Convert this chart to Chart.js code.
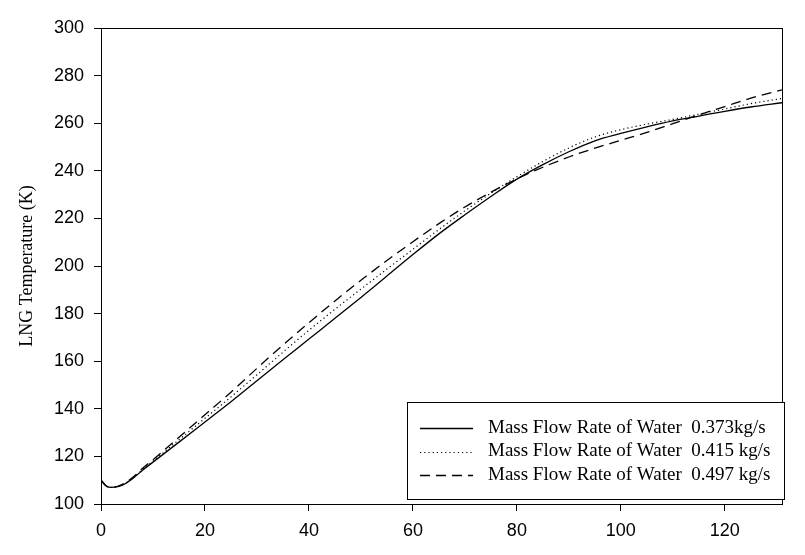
<!DOCTYPE html>
<html>
<head>
<meta charset="utf-8">
<title>LNG Temperature</title>
<script src="https://cdn.jsdelivr.net/npm/chart.js@4.4.1/dist/chart.umd.min.js"></script>
<style>
  html, body { margin: 0; padding: 0; background: #fff; }
  #wrap { width: 805px; height: 555px; }
</style>
</head>
<body>
<div id="wrap"><canvas id="lng-chart" width="805" height="555"></canvas></div>
<script>
// distance along the exchanger (x) and LNG temperature (K) for each water flow rate
const positions = [0, 1, 2, 4, 6, 8, 10, 15, 20, 25, 30, 35, 40, 45, 50, 55, 60, 65, 70, 75, 80, 85, 90, 95, 100, 105, 110, 115, 120, 125, 131];
const temp0373 = [110, 107.6, 107.0, 107.8, 110.5, 114.2, 117.6, 126, 134.5, 143, 151.8, 160.6, 169.3, 178, 186.8, 195.8, 204.8, 213.5, 221.5, 229.2, 236.5, 242.6, 248, 252.6, 255.7, 258.5, 261, 263, 265, 266.8, 268.6];
const temp0415 = [110, 107.6, 107.0, 108.0, 110.7, 114.5, 118, 127, 136, 145, 154.3, 163.8, 173, 181.8, 190.3, 198.7, 207, 215.3, 223.2, 230.6, 237.5, 243.9, 249.6, 254.2, 257.3, 259.6, 261.6, 263.8, 266, 268.2, 270.4];
const temp0497 = [110, 107.6, 107.0, 108.2, 111.0, 115, 118.6, 128, 137.5, 147, 157, 166.8, 176.2, 185.3, 194, 202.3, 210.2, 217.8, 224.8, 231, 236.6, 241.5, 245.8, 249.5, 252.8, 256.1, 259.8, 263.5, 267, 270.5, 274];
const seriesLabels = [
  'Mass Flow Rate of Water  0.373kg/s',
  'Mass Flow Rate of Water  0.415 kg/s',
  'Mass Flow Rate of Water  0.497 kg/s',
];
const xTicks = [0, 20, 40, 60, 80, 100, 120];
const yTicks = [100, 120, 140, 160, 180, 200, 220, 240, 260, 280, 300];

const toPoints = (ys) => ys.map((y, i) => ({ x: positions[i], y }));

// box around the plot and the framed legend inside it
const frameAndLegend = {
  id: 'frameAndLegend',
  afterDatasetsDraw(chart) {
    const { ctx, chartArea: a } = chart;
    ctx.save();
    ctx.strokeStyle = '#000';
    ctx.lineWidth = 1;
    ctx.setLineDash([]);
    ctx.strokeRect(Math.round(a.left) + 0.5, Math.round(a.top) + 0.5,
      Math.round(a.right - a.left), Math.round(a.bottom - a.top));

    const bx = 407, by = 402, bw = 377, bh = 97;
    ctx.fillStyle = '#fff';
    ctx.fillRect(bx, by, bw, bh);
    ctx.strokeRect(bx + 0.5, by + 0.5, bw, bh);

    ctx.font = '19px "Liberation Serif", "Times New Roman", serif';
    ctx.textBaseline = 'middle';
    ctx.fillStyle = '#000';
    chart.data.datasets.forEach((ds, i) => {
      const y = 428 + i * 23.5;
      ctx.beginPath();
      ctx.lineWidth = ds.borderWidth;
      ctx.setLineDash(ds.borderDash || []);
      ctx.moveTo(420, Math.round(y) + 0.5);
      ctx.lineTo(473, Math.round(y) + 0.5);
      ctx.stroke();
      ctx.setLineDash([]);
      ctx.fillText(ds.label, 488, y);
    });
    ctx.restore();
  },
};

new Chart(document.getElementById('lng-chart'), {
  type: 'line',
  data: {
    datasets: [
      { label: seriesLabels[0], data: toPoints(temp0373), borderColor: '#000', borderWidth: 1.3, borderDash: [] },
      { label: seriesLabels[1], data: toPoints(temp0415), borderColor: '#000', borderWidth: 1.2, borderDash: [1.2, 3] },
      { label: seriesLabels[2], data: toPoints(temp0497), borderColor: '#000', borderWidth: 1.3, borderDash: [10, 6] },
    ],
  },
  options: {
    responsive: false,
    devicePixelRatio: 1,
    animation: false,
    layout: { padding: { top: 28, right: 23, left: 0, bottom: 0 } },
    elements: {
      point: { radius: 0 },
      line: { cubicInterpolationMode: 'monotone', fill: false },
    },
    plugins: { legend: { display: false }, tooltip: { enabled: false } },
    scales: {
      x: {
        type: 'linear',
        min: 0,
        max: 131,
        afterBuildTicks: (s) => { s.ticks = xTicks.map((v) => ({ value: v })); },
        afterFit: (s) => { s.height = 51; },
        grid: { drawOnChartArea: false, drawTicks: true, tickLength: 7, color: '#000' },
        border: { color: '#000', width: 1 },
        ticks: {
          color: '#000',
          padding: 9,
          maxRotation: 0,
          font: { family: '"Liberation Sans", Arial, sans-serif', size: 18 },
        },
      },
      y: {
        type: 'linear',
        min: 100,
        max: 300,
        afterBuildTicks: (s) => { s.ticks = yTicks.map((v) => ({ value: v })); },
        afterFit: (s) => { s.width = 101; },
        grid: { drawOnChartArea: false, drawTicks: true, tickLength: 7, color: '#000' },
        border: { color: '#000', width: 1 },
        ticks: {
          color: '#000',
          padding: 10,
          font: { family: '"Liberation Sans", Arial, sans-serif', size: 18 },
        },
        title: {
          display: true,
          text: 'LNG Temperature (K)',
          color: '#000',
          padding: { top: 16, bottom: 0 },
          font: { family: '"Liberation Serif", "Times New Roman", serif', size: 18 },
        },
      },
    },
  },
  plugins: [frameAndLegend],
});
</script>
</body>
</html>
